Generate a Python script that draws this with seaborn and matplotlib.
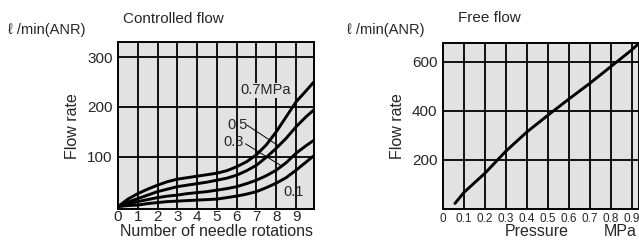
#!/usr/bin/env python3
"""Flow rate characteristics: controlled flow vs needle rotations, free flow vs pressure."""
import matplotlib
matplotlib.use('Agg')
import matplotlib.pyplot as plt
import numpy as np
import pandas as pd
import seaborn as sns

# Controlled flow
rotations = [0, 0.5, 1, 1.5, 2, 2.5, 3, 3.5, 4, 4.5, 5, 5.5, 6, 6.5, 7, 7.5, 8, 8.5, 9, 9.5, 9.9]
flow_07 = [0, 15, 26, 35, 43, 50, 55, 58, 61, 64, 67, 72, 80, 90, 104, 124, 150, 180, 210, 232, 250]
flow_05 = [0, 9, 16, 23, 30, 35, 40, 43, 46, 49, 53, 57, 63, 72, 83, 99, 117, 137, 160, 180, 194]
flow_03 = [0, 5, 10, 14, 18, 21, 23, 26, 28, 30, 33, 36, 40, 46, 53, 62, 73, 88, 107, 122, 133]
flow_01 = [0, 2, 3, 6, 8, 10, 11, 12, 13, 14, 15, 18, 21, 25, 30, 38, 47, 58, 73, 89, 102]
pressure_names = ['0.7', '0.5', '0.3', '0.1']
rotation_ticks = [0, 1, 2, 3, 4, 5, 6, 7, 8, 9]
controlled_yticks = [100, 200, 300]

# Free flow
pressure = [0.057, 0.1, 0.2, 0.3, 0.4, 0.5, 0.6, 0.7, 0.8, 0.9, 0.935]
free_flow = [23, 68, 146, 236, 314, 382, 448, 512, 580, 648, 676]
pressure_ticks = [0, 0.1, 0.2, 0.3, 0.4, 0.5, 0.6, 0.7, 0.8, 0.9]
pressure_ticklabels = ['0', '0.1', '0.2', '0.3', '0.4', '0.5', '0.6', '0.7', '0.8', '0.9']
free_yticks = [200, 400, 600]

sns.set_style('white', {'axes.facecolor': '#e2e2e2', 'axes.edgecolor': 'black'})
plt.rcParams['font.family'] = ['Liberation Sans', 'DejaVu Sans']

controlled = pd.DataFrame({
    'rot': rotations * 4,
    'flow': flow_07 + flow_05 + flow_03 + flow_01,
    'p': sum([[n] * len(rotations) for n in pressure_names], []),
})
free = pd.DataFrame({'p': pressure, 'flow': free_flow})

fig = plt.figure(figsize=(6.39, 2.48), dpi=100)
ax1 = fig.add_axes([0.1847, 0.157, 0.3067, 0.673])
ax2 = fig.add_axes([0.6933, 0.157, 0.3067, 0.670])

grid_kw = dict(color='black', linewidth=1.3)

# --- Controlled flow ---
for x in rotation_ticks[1:]:
    ax1.axvline(x, **grid_kw, zorder=1)
for y in controlled_yticks:
    ax1.axhline(y, **grid_kw, zorder=1)
sns.lineplot(data=controlled, x='rot', y='flow', hue='p', palette=['black'] * 4,
             linewidth=2.1, legend=False, ax=ax1, zorder=3)
ax1.set_xlim(0, 9.91)
ax1.set_ylim(-5, 330)
ax1.set_xticks(rotation_ticks)
ax1.set_yticks(controlled_yticks)
ax1.tick_params(length=0, labelsize=11, pad=1)
ax1.tick_params(axis='y', pad=4)
ax1.set_xlabel('Number of needle rotations', fontsize=11.5, labelpad=0)
ax1.set_ylabel('Flow rate', fontsize=11.5, labelpad=5)

ax1.text(7.47, 233, '0.7MPa', fontsize=10.5, ha='center', va='center', zorder=4,
         bbox=dict(facecolor='#e2e2e2', edgecolor='none', pad=0.5))
ax1.text(6.03, 163, '0.5', fontsize=10.5, ha='center', va='center', zorder=4)
ax1.text(5.84, 129, '0.3', fontsize=10.5, ha='center', va='center', zorder=4)
ax1.text(8.9, 30, '0.1', fontsize=10.5, ha='center', va='center', zorder=4)
ax1.plot([6.54, 8.07], [163, 123], color='black', linewidth=0.7, zorder=4)
ax1.plot([6.45, 8.33], [126, 80], color='black', linewidth=0.7, zorder=4)

# --- Free flow ---
for x in pressure_ticks[1:]:
    ax2.axvline(x, **grid_kw, zorder=1)
for y in free_yticks:
    ax2.axhline(y, **grid_kw, zorder=1)
sns.lineplot(data=free, x='p', y='flow', color='black', linewidth=2.1, ax=ax2, zorder=3)
ax2.set_xlim(0, 0.935)
ax2.set_ylim(0, 677)
ax2.set_xticks(pressure_ticks)
ax2.set_xticklabels(pressure_ticklabels)
ax2.set_yticks(free_yticks)
ax2.tick_params(length=0, labelsize=11, pad=4)
ax2.tick_params(axis='x', labelsize=8.5, pad=3)
ax2.set_xlabel('')
ax2.set_ylabel('Flow rate', fontsize=11.5, labelpad=5)

for ax in (ax1, ax2):
    for s in ax.spines.values():
        s.set_linewidth(1.4)
        s.set_visible(True)

# Header texts
fig.text(8 / 639, 1 - 30 / 248, 'ℓ /min(ANR)', fontsize=10.5, ha='left', va='center')
fig.text(347 / 639, 1 - 30 / 248, 'ℓ /min(ANR)', fontsize=10.5, ha='left', va='center')
fig.text(123 / 639, 1 - 19 / 248, 'Controlled flow', fontsize=11, ha='left', va='center')
fig.text(458 / 639, 1 - 18 / 248, 'Free flow', fontsize=11, ha='left', va='center')
fig.text(537 / 639, 1 - 232 / 248, 'Pressure', fontsize=11.5, ha='center', va='center')
fig.text(620 / 639, 1 - 232 / 248, 'MPa', fontsize=11.5, ha='center', va='center')

fig.savefig('out.png', dpi=100, facecolor='white')
